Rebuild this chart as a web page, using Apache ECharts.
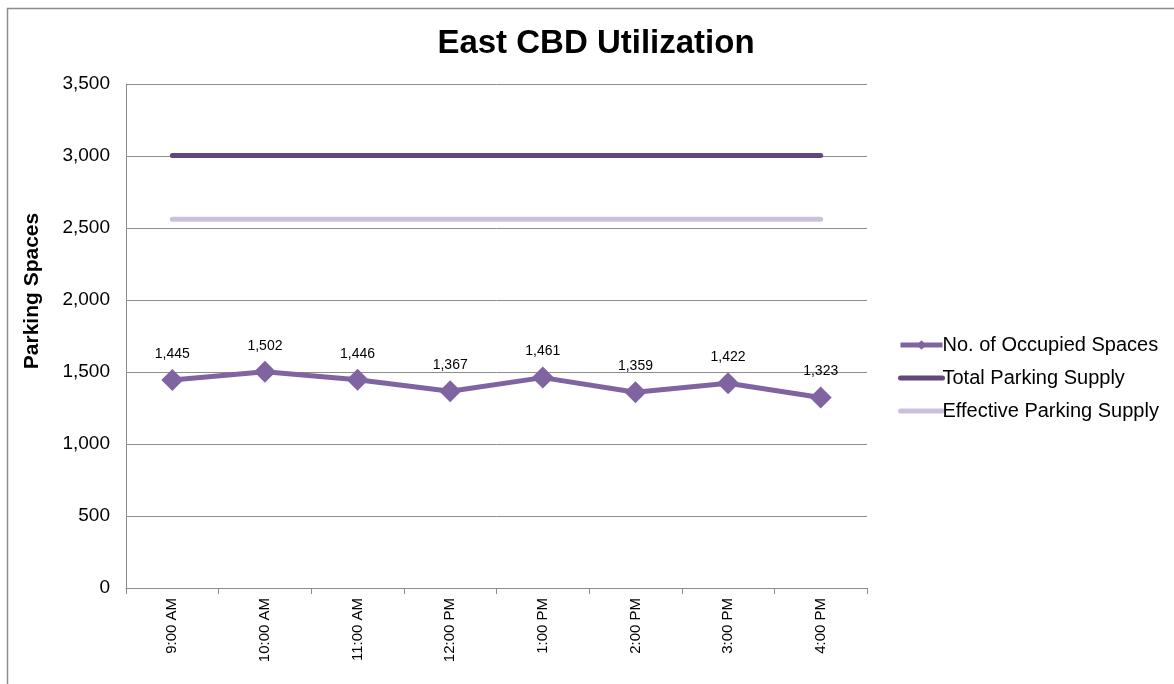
<!DOCTYPE html>
<html>
<head>
<meta charset="utf-8">
<script src="https://cdn.jsdelivr.net/npm/echarts@6/dist/echarts.min.js"></script>
<style>
  html, body { margin: 0; padding: 0; background: #fff; }
  #main { width: 1174px; height: 684px; }
</style>
</head>
<body>
<div id="main"></div>
<script>
const times = ['9:00 AM', '10:00 AM', '11:00 AM', '12:00 PM', '1:00 PM', '2:00 PM', '3:00 PM', '4:00 PM'];
const occupied = [1445, 1502, 1446, 1367, 1461, 1359, 1422, 1323];
const totalSupply = [3003, 3003, 3003, 3003, 3003, 3003, 3003, 3003];
const effectiveSupply = [2560, 2560, 2560, 2560, 2560, 2560, 2560, 2560];

window.addEventListener('load', function () {
  var chart = echarts.init(document.getElementById('main'));
  var font = 'Liberation Sans, Arial, sans-serif';

  chart.setOption({
    animation: false,
    textStyle: { fontFamily: font },
    graphic: [
      {
        type: 'rect',
        shape: { x: 7.5, y: 8.5, width: 1200, height: 700 },
        style: { fill: 'none', stroke: '#8c8c8c', lineWidth: 1.5 }
      },
      {
        // y axis title, centred on the chart area like Excel does
        type: 'text',
        x: 32, y: 291,
        rotation: Math.PI / 2,
        style: {
          text: 'Parking Spaces',
          fontSize: 21, fontWeight: 'bold', fontFamily: font,
          fill: '#000', align: 'center', verticalAlign: 'middle'
        }
      }
    ],
    title: {
      text: 'East CBD Utilization',
      left: 591, top: 22, textAlign: 'center',
      textStyle: { fontSize: 33, fontWeight: 'bold', color: '#000', fontFamily: font }
    },
    legend: {
      orient: 'vertical',
      left: 893, top: 330,
      itemGap: 13,
      itemWidth: 42, itemHeight: 12,
      lineStyle: { width: 5 },
      textStyle: { fontSize: 20, color: '#000', fontFamily: font, padding: [0, 0, 0, -5] },
      data: [
        { name: 'No. of Occupied Spaces' },
        { name: 'Total Parking Supply', itemStyle: { opacity: 0 } },
        { name: 'Effective Parking Supply', itemStyle: { opacity: 0 } }
      ]
    },
    grid: { left: 126, top: 84, width: 741, height: 504, containLabel: false },
    xAxis: {
      type: 'category',
      data: times,
      boundaryGap: true,
      axisLine: { lineStyle: { color: '#8c8c8c', width: 1 } },
      axisTick: { show: true, length: 6, lineStyle: { color: '#8c8c8c' } },
      axisLabel: { rotate: 90, color: '#000', fontSize: 15, margin: 10, fontFamily: font }
    },
    yAxis: {
      type: 'value',
      min: 0, max: 3500, interval: 500,
      axisLine: { show: true, lineStyle: { color: '#8c8c8c', width: 1 } },
      axisTick: { show: false },
      splitLine: { lineStyle: { color: '#8c8c8c', width: 1 } },
      axisLabel: {
        color: '#000', fontSize: 19, margin: 16, fontFamily: font,
        formatter: function (v) { return v.toLocaleString('en-US'); }
      }
    },
    series: [
      {
        name: 'No. of Occupied Spaces',
        type: 'line',
        data: occupied,
        symbol: 'diamond',
        symbolSize: 22,
        itemStyle: { color: '#8064a2' },
        lineStyle: { color: '#8064a2', width: 5 },
        label: {
          show: true, position: 'top', distance: 8,
          color: '#000', fontSize: 14, fontFamily: font,
          formatter: function (p) { return p.value.toLocaleString('en-US'); }
        },
        z: 4
      },
      {
        name: 'Total Parking Supply',
        type: 'line',
        data: totalSupply,
        symbol: 'none',
        itemStyle: { color: '#5f497a' },
        lineStyle: { color: '#5f497a', width: 5, cap: 'round' },
        z: 3
      },
      {
        name: 'Effective Parking Supply',
        type: 'line',
        data: effectiveSupply,
        symbol: 'none',
        itemStyle: { color: '#ccc1da' },
        lineStyle: { color: '#ccc1da', width: 5, cap: 'round' },
        z: 2
      }
    ]
  });
});
</script>
</body>
</html>
